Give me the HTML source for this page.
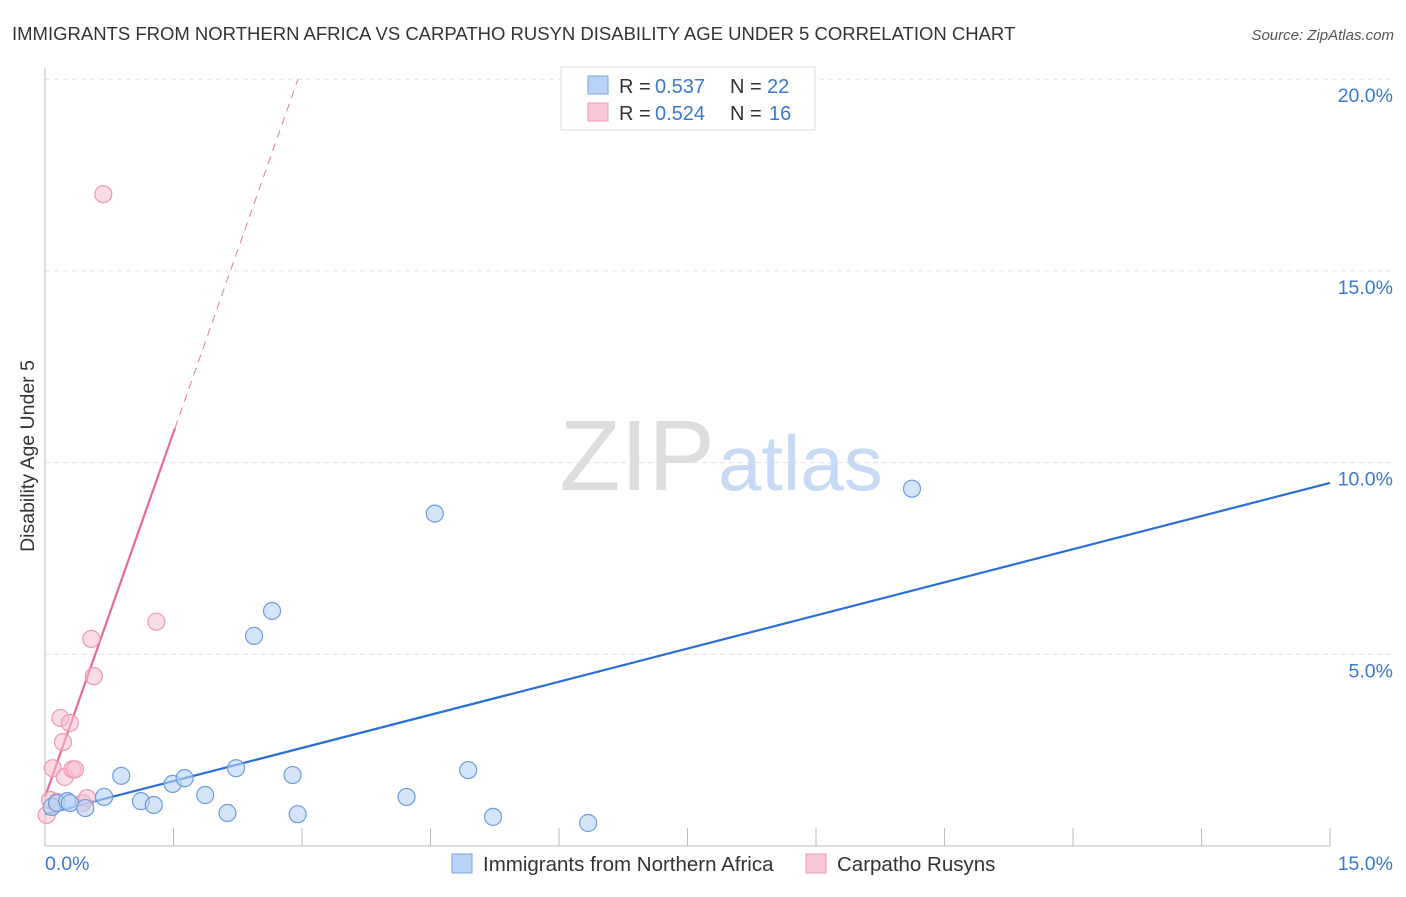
<!DOCTYPE html>
<html><head><meta charset="utf-8"><style>
body{margin:0;background:#fff;font-family:"Liberation Sans",sans-serif;}
svg text{font-family:"Liberation Sans",sans-serif;}
</style></head><body>
<svg id="chart" width="1406" height="892">
<text x="12" y="40" font-size="18.5" fill="#333">IMMIGRANTS FROM NORTHERN AFRICA VS CARPATHO RUSYN DISABILITY AGE UNDER 5 CORRELATION CHART</text>
<text x="1394" y="40" font-size="15" fill="#555" font-style="italic" text-anchor="end">Source: ZipAtlas.com</text>
<g id="grid"></g>
<g id="axes"></g>
<text x="715" y="490" font-size="100" fill="#ddd" text-anchor="end" font-family="Liberation Serif">ZIP</text>
<text x="718" y="490" font-size="78" fill="#c8daf3">atlas</text>
<g id="lines"></g>
<g id="pts"></g>
<text x="34" y="456" font-size="19.5" fill="#333" text-anchor="middle" transform="rotate(-90 34 456)">Disability Age Under 5</text>
<g>
<rect x="561" y="67" width="254" height="63" fill="#fff" stroke="#ddd"/>
<rect x="588" y="76" width="20" height="18" fill="#b8d3f5" stroke="#7aa6e0"/>
<text x="619" y="93" font-size="20" fill="#333">R =</text>
<text x="655" y="93" font-size="20" fill="#3a78d4">0.537</text>
<text x="730" y="93" font-size="20" fill="#333">N =</text>
<text x="767" y="93" font-size="20" fill="#3a78d4">22</text>
<rect x="588" y="103" width="20" height="18" fill="#f8c8d6" stroke="#ec9ab2"/>
<text x="619" y="120" font-size="20" fill="#333">R =</text>
<text x="655" y="120" font-size="20" fill="#3a78d4">0.524</text>
<text x="730" y="120" font-size="20" fill="#333">N =</text>
<text x="769" y="120" font-size="20" fill="#3a78d4">16</text>
</g>
<g>
<rect x="452" y="854" width="20" height="19" fill="#b8d3f5" stroke="#7aa6e0"/>
<text x="483" y="871" font-size="20.5" fill="#333">Immigrants from Northern Africa</text>
<rect x="806" y="854" width="20" height="19" fill="#f8c8d6" stroke="#ec9ab2"/>
<text x="837" y="871" font-size="20.5" fill="#333">Carpatho Rusyns</text>
</g>
</svg>
<script>
const xTickLabels=["0.0%","15.0%"];
const yTicks=[5,10,15,20];
const blueX=[0.08,0.14,0.26,0.29,0.47,0.69,0.89,1.12,1.27,1.49,1.63,1.87,2.13,2.23,2.44,2.65,2.89,2.95,4.22,4.55,4.94,5.23,6.34,10.12];
const blueY=[1.02,1.12,1.17,1.12,0.99,1.28,1.83,1.17,1.07,1.62,1.77,1.33,0.86,2.03,5.48,6.13,1.85,0.83,1.28,8.67,1.98,0.76,0.60,9.32];
const pinkX=[0.02,0.06,0.09,0.14,0.18,0.21,0.23,0.29,0.32,0.35,0.44,0.49,0.54,0.57,0.68,1.30];
const pinkY=[0.81,1.20,2.03,1.15,3.34,2.71,1.80,3.21,2.00,2.00,1.12,1.25,5.40,4.43,17.0,5.85];
const blueLine=[0.83,9.47];
const pinkInt=1.28, pinkSlope=6.34, pinkSolidEnd=1.517;
const X=v=>45+v*85.67, Y=v=>846-v*38.34;
const NS="http://www.w3.org/2000/svg";
function mk(tag,attrs,parent){const e=document.createElementNS(NS,tag);for(const k in attrs)e.setAttribute(k,attrs[k]);document.getElementById(parent).appendChild(e);return e;}
yTicks.forEach(t=>{
 const l=mk('line',{x1:45,x2:1395,y1:Y(t),y2:Y(t),stroke:'#e2e2e2','stroke-dasharray':'5,4'},'grid');
 
 
 const tx=mk('text',{x:1393,y:Y(t)+23,'font-size':19.5,fill:'#3a78d4','text-anchor':'end'},'axes');
 tx.textContent=t.toFixed(1)+'%';
 
 
});
const ax=mk('line',{x1:45,x2:1330,y1:846,y2:846,stroke:'#bbb'},'axes');


const ay=mk('line',{x1:45,x2:45,y1:68,y2:846,stroke:'#bbb'},'axes');


for(let i=1;i<=10;i++){const tk=mk('line',{x1:X(i*1.5),x2:X(i*1.5),y1:828,y2:846,stroke:'#bbb'},'axes');
 
 }
const xl0=mk('text',{x:45,y:870,'font-size':19.5,fill:'#3a78d4'},'axes');xl0.textContent=xTickLabels[0];


const xl1=mk('text',{x:1393,y:870,'font-size':19.5,fill:'#3a78d4','text-anchor':'end'},'axes');xl1.textContent=xTickLabels[1];


const bl=mk('line',{x1:X(0),y1:Y(blueLine[0]),x2:X(15),y2:Y(blueLine[1]),stroke:'#2a6fd6','stroke-width':2.2},'lines');


const pyAt=x=>pinkInt+pinkSlope*x;
const pdEnd=(20-pinkInt)/pinkSlope;
const pd=mk('line',{x1:X(pinkSolidEnd),y1:Y(pyAt(pinkSolidEnd)),x2:X(pdEnd),y2:Y(20),stroke:'#e87aa0','stroke-width':1,'stroke-dasharray':'8,6'},'lines');


const ps=mk('line',{x1:X(0),y1:Y(pyAt(0)),x2:X(pinkSolidEnd),y2:Y(pyAt(pinkSolidEnd)),stroke:'#e8689a','stroke-width':2.2},'lines');


pinkX.forEach((x,i)=>{const c=mk('circle',{cx:X(x),cy:Y(pinkY[i]),r:8.5,fill:'rgba(248,190,208,0.55)',stroke:'#ec9ab2','stroke-width':1.2},'pts');
 
 });
blueX.forEach((x,i)=>{const c=mk('circle',{cx:X(x),cy:Y(blueY[i]),r:8.5,fill:'rgba(184,211,245,0.6)',stroke:'#6f9ddc','stroke-width':1.2},'pts');
 
 });
</script>
</body></html>
